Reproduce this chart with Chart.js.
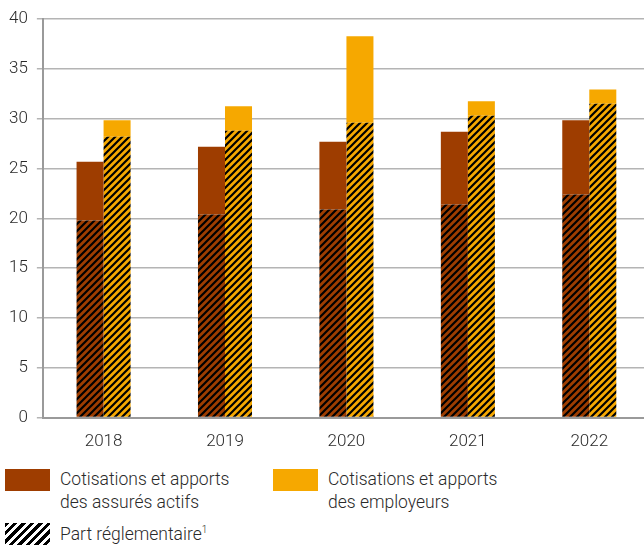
<!DOCTYPE html>
<html>
<head>
<meta charset="utf-8">
<script src="https://cdn.jsdelivr.net/npm/chart.js@4"></script>
<style>
  html, body { margin: 0; padding: 0; background: #fff; overflow: hidden; }
  body { width: 644px; height: 546px; position: relative; font-family: Roboto, sans-serif; font-weight: 300; color: #2a2a2a; }
  #wrap { position: absolute; left: 0; top: 0; width: 650px; height: 458px; }
  .item { position: absolute; font-size: 17.5px; line-height: 23px; }
  .sw { position: absolute; width: 45px; height: 22px; }
</style>
</head>
<body>
<div id="wrap"><canvas id="chart" width="650" height="458"></canvas></div>

<div class="sw" style="left:5px;top:469px;background:#9e3d00"></div>
<div class="item" style="left:60px;top:468px">Cotisations et apports<br>des assurés actifs</div>
<div class="sw" style="left:273px;top:469px;background:#f6a800"></div>
<div class="item" style="left:328px;top:468px">Cotisations et apports<br>des employeurs</div>
<div class="sw" style="left:5px;top:523px;background:repeating-linear-gradient(135deg,#000 0 3px,#fff 3px 6px)"></div>
<div class="item" style="left:60px;top:523px">Part réglementaire<sup style="font-size:10px;vertical-align:7px;line-height:0">1</sup></div>

<script>
const years = ['2018', '2019', '2020', '2021', '2022'];
// totals and regulatory part, in millions
const assuresTotal = [25.7, 27.2, 27.7, 28.7, 29.85];
const assuresRegl = [19.8, 20.4, 20.9, 21.4, 22.4];
const employeursTotal = [29.85, 31.25, 38.3, 31.75, 32.95];
const employeursRegl = [28.2, 28.8, 29.6, 30.3, 31.5];

const brown = '#9e3d00';
const orange = '#f6a800';

function hatch(color) {
  const s = 7;
  const c = document.createElement('canvas');
  c.width = s; c.height = s;
  const g = c.getContext('2d');
  g.fillStyle = color;
  g.fillRect(0, 0, s, s);
  g.strokeStyle = '#000';
  g.lineWidth = 2.2;
  g.beginPath();
  g.moveTo(0, s); g.lineTo(s, 0);
  g.moveTo(-1, 1); g.lineTo(1, -1);
  g.moveTo(s - 1, s + 1); g.lineTo(s + 1, s - 1);
  g.stroke();
  return g.createPattern(c, 'repeat');
}

const rest = (tot, reg) => tot.map((v, i) => +(v - reg[i]).toFixed(2));

const tickFont = { family: 'Roboto', size: 17, weight: 300 };

const ctx = document.getElementById('chart').getContext('2d');
new Chart(ctx, {
  type: 'bar',
  data: {
    labels: years,
    datasets: [
      { data: assuresRegl, backgroundColor: hatch(brown), stack: 'a' },
      { data: rest(assuresTotal, assuresRegl), backgroundColor: brown, stack: 'a' },
      { data: employeursRegl, backgroundColor: hatch(orange), stack: 'b' },
      { data: rest(employeursTotal, employeursRegl), backgroundColor: orange, stack: 'b' },
    ],
  },
  options: {
    responsive: false,
    animation: false,
    events: [],
    categoryPercentage: 0.445,
    barPercentage: 1,
    layout: { padding: { top: 13, left: 0, right: 0, bottom: 0 } },
    plugins: { legend: { display: false }, tooltip: { enabled: false } },
    scales: {
      x: {
        stacked: true,
        grid: { display: false },
        border: { color: '#9a9a9a', width: 2 },
        ticks: { color: '#2a2a2a', font: tickFont, padding: 6 },
      },
      y: {
        stacked: true,
        min: 0,
        max: 40,
        grid: { color: '#b4b4b4', lineWidth: 1.5, tickLength: 6 },
        border: { color: '#9a9a9a', width: 2 },
        ticks: { stepSize: 5, color: '#2a2a2a', font: tickFont, padding: 9 },
      },
    },
  },
});
</script>
</body>
</html>
